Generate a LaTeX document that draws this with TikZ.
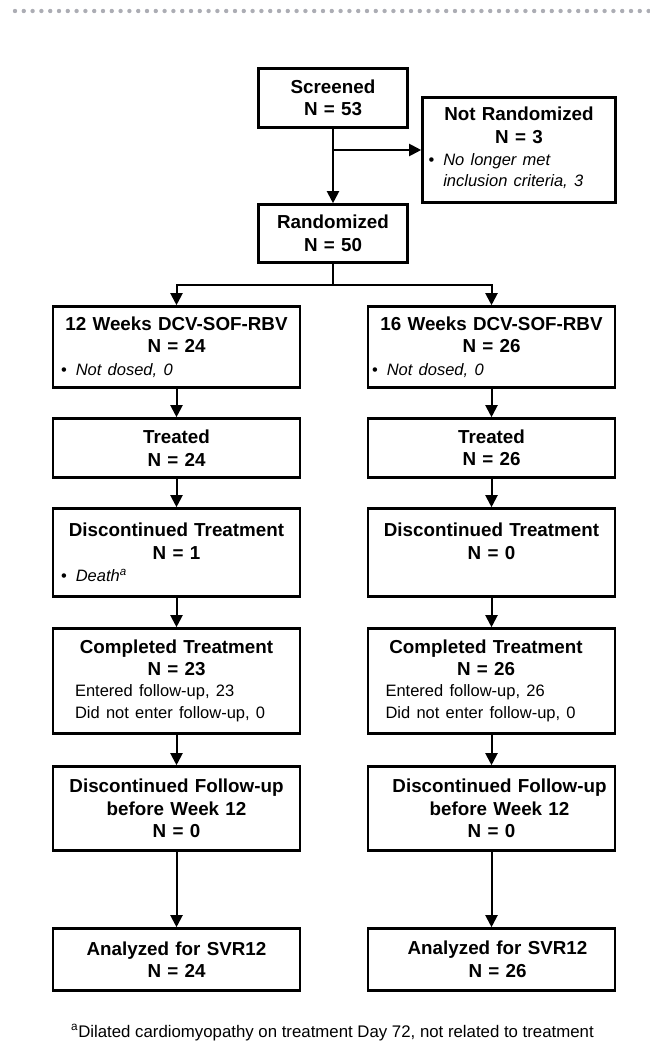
\documentclass[tikz,border=0pt]{standalone}
\usepackage{fontspec}
\setmainfont{Liberation Sans}
\usetikzlibrary{arrows.meta}
\definecolor{dotgray}{RGB}{172,173,180}
\newcommand{\note}{\mdseries\fontsize{16.5}{20.5}\selectfont}
\newcommand{\bul}[2][0pt]{\note\leavevmode\hbox to\hsize{\hspace*{#1}\textbullet\hspace{9pt}\textit{#2}\hfil}}
\newcommand{\lline}[2]{\leavevmode\hbox to\hsize{\hspace*{#1}#2\hfil}}
\tikzset{%
    box/.style={draw=black, line width=2.6pt, align=center, inner xsep=8pt, inner ysep=0pt,
        font=\fontsize{18.8}{22.5}\selectfont\bfseries},
    sbox/.style={box, text width=133pt},
    abox/.style={box, text width=231pt}
}

\begin{document}
\begin{tikzpicture}[x=1pt, y=-1pt, arr/.style={line width=2pt, -{Triangle[length=12pt,width=12pt]}}]
        \useasboundingbox (0,0) rectangle (650,1049);
        \draw[dotgray, line width=4.4pt, line cap=round, dash pattern=on 0pt off 8.8pt] (15,11) -- (650,11);

        \node[sbox, minimum height=59pt] (scr) at (333,98) {Screened\\N = 53};
        \node[box, text width=177pt, minimum height=105pt] (nr) at (519,150)
            {Not Randomized\\N = 3\\\bul[-2pt]{\begin{tabular}[t]{@{}l@{}}No longer met\\inclusion criteria, 3\end{tabular}}};
        \node[sbox, minimum height=58pt] (rnd) at (333,233.5) {Randomized\\N = 50};

        \node[abox, minimum height=81pt] (a1) at (176.5,347) {12 Weeks DCV-SOF-RBV\\N = 24\\\bul{Not dosed, 0}};
        \node[abox, minimum height=81pt] (a2) at (491.5,347) {16 Weeks DCV-SOF-RBV\\N = 26\\\bul[-4pt]{Not dosed, 0}};
        \node[abox, minimum height=59pt] (t1) at (176.5,448) {Treated\\N = 24};
        \node[abox, minimum height=59pt] (t2) at (491.5,448) {Treated\\N = 26};
        \node[abox, minimum height=88pt] (d1) at (176.5,552.5) {Discontinued Treatment\\N = 1\\\bul{Death\textsuperscript{a}}};
        \node[abox, minimum height=88pt] (d2) at (491.5,552.5) {Discontinued Treatment\\N = 0\\\mbox{}};
        \node[abox, minimum height=105pt] (c1) at (176.5,681)
            {Completed Treatment\\N = 23\\\note\lline{14pt}{Entered follow-up, 23}\\\lline{14pt}{Did not enter follow-up, 0}};
        \node[abox, minimum height=105pt] (c2) at (491.5,681)
            {\hspace*{-11pt}Completed Treatment\\\hspace*{-11pt}N = 26\\\note\lline{9.5pt}{Entered follow-up, 26}\\\lline{9.5pt}{Did not enter follow-up, 0}};
        \node[abox, minimum height=84pt] (f1) at (176.5,808.5) {Discontinued Follow-up\\before Week 12\\N = 0};
        \node[abox, minimum height=84pt] (f2) at (491.5,808.5) {\hspace*{16pt}Discontinued Follow-up\\\hspace*{16pt}before Week 12\\N = 0};
        \node[abox, minimum height=62pt] (s1) at (176.5,959.5) {Analyzed for SVR12\\N = 24};
        \node[abox, minimum height=62pt] (s2) at (491.5,959.5) {\hspace*{12pt}Analyzed for SVR12\\\hspace*{12pt}N = 26};

        \node[anchor=base, font=\fontsize{16.8}{20}\selectfont] (fn) at (332.5,1037)
            {\textsuperscript{a}Dilated cardiomyopathy on treatment Day 72, not related to treatment};

        \draw[arr] (scr) -- (rnd);
        \draw[arr] (scr.south |- nr.west) -- (nr.west);
        \draw[line width=2pt] (rnd.south) -- ++(0,21) coordinate (sp);
        \draw[arr] (sp) -| (a1);
        \draw[arr] (sp) -| (a2);
        \path[arr]
            (a1) edge (t1)
            (t1) edge (d1)
            (d1) edge (c1)
            (c1) edge (f1)
            (f1) edge (s1)
            (a2) edge (t2)
            (t2) edge (d2)
            (d2) edge (c2)
            (c2) edge (f2)
            (f2) edge (s2);
    \end{tikzpicture}
\end{document}
